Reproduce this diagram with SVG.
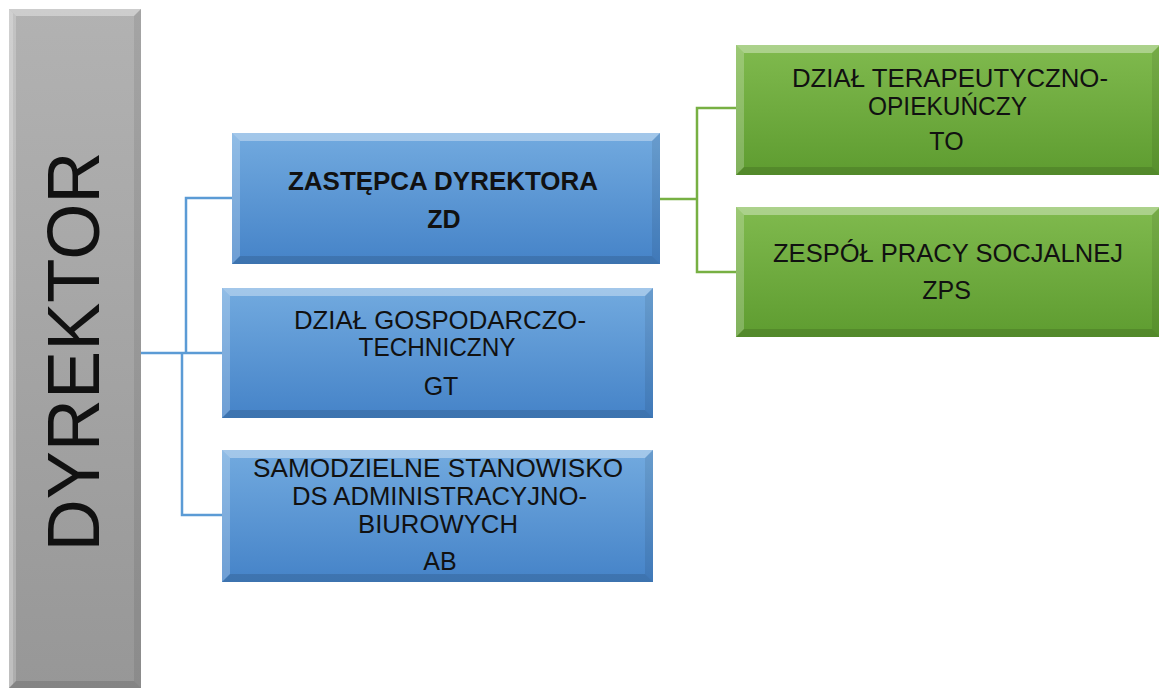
<svg xmlns="http://www.w3.org/2000/svg" width="1159" height="689" viewBox="0 0 1159 689">
<defs>
<linearGradient id="gBlue" x1="0" y1="0" x2="0" y2="1">
<stop offset="0" stop-color="#72AADF"/><stop offset="1" stop-color="#4583C8"/>
</linearGradient>
<linearGradient id="gGreen" x1="0" y1="0" x2="0" y2="1">
<stop offset="0" stop-color="#80BA4E"/><stop offset="1" stop-color="#5E9C30"/>
</linearGradient>
<linearGradient id="gGray" x1="0" y1="0" x2="0" y2="1">
<stop offset="0" stop-color="#B2B2B2"/><stop offset="1" stop-color="#979797"/>
</linearGradient>
</defs>
<style>
.t{font-family:"Liberation Sans",Arial,sans-serif;font-size:25px;fill:#111;text-anchor:middle}
.b{font-weight:bold}
.bt{fill:#fff;opacity:.35}
.bl{fill:#fff;opacity:.22}
.br{fill:#000;opacity:.08}
.bb{fill:#000;opacity:.12}
.cb{fill:none;stroke:#5B9BD5;stroke-width:2.5}
.cg{fill:none;stroke:#77B043;stroke-width:2.5}
</style>
<rect width="1159" height="689" fill="#fff"/>
<g id="connectors">
<polyline class="cb" points="141,353 223,353"/>
<polyline class="cb" points="232,198 186,198 186,353"/>
<polyline class="cb" points="182,353 182,515 223,515"/>
<polyline class="cg" points="660,199 697,199"/>
<polyline class="cg" points="736,108 697,108 697,272 736,272"/>
</g>
<g id="dyrektor">
<rect x="9" y="9" width="132" height="679" fill="url(#gGray)"/>
<polygon class="bt" points="9,9 141,9 134,16 16,16"/>
<polygon class="bl" points="9,9 16,16 16,681 9,688"/>
<polygon class="bl" points="9,9 13,13 13,684 9,688"/>
<polygon class="br" points="141,9 141,688 134,681 134,16"/>
<polygon class="bb" points="9,688 141,688 134,681 16,681"/>
<text class="t" transform="translate(99,351.5) rotate(-90)" style="font-size:74px" textLength="400" lengthAdjust="spacingAndGlyphs">DYREKTOR</text>
</g>
<g id="zd">
<rect x="232" y="133" width="428" height="131" fill="url(#gBlue)"/>
<polygon class="bt" points="232,133 660,133 652,141 240,141"/>
<polygon class="bl" points="232,133 240,141 240,256 232,264"/>
<polygon class="br" points="660,133 660,264 652,256 652,141"/>
<polygon class="bb" points="232,264 660,264 652,256 240,256"/>
<text class="t b" x="443" y="190" textLength="310" lengthAdjust="spacingAndGlyphs">ZASTĘPCA DYREKTORA</text>
<text class="t b" x="444" y="228">ZD</text>
</g>
<g id="gt">
<rect x="222" y="288" width="431" height="130" fill="url(#gBlue)"/>
<polygon class="bt" points="222,288 653,288 645,296 230,296"/>
<polygon class="bl" points="222,288 230,296 230,410 222,418"/>
<polygon class="br" points="653,288 653,418 645,410 645,296"/>
<polygon class="bb" points="222,418 653,418 645,410 230,410"/>
<text class="t" x="440" y="329" textLength="292" lengthAdjust="spacingAndGlyphs">DZIAŁ GOSPODARCZO-</text>
<text class="t" x="437" y="356" textLength="157" lengthAdjust="spacingAndGlyphs">TECHNICZNY</text>
<text class="t" x="441" y="395">GT</text>
</g>
<g id="ab">
<rect x="222" y="450" width="431" height="132" fill="url(#gBlue)"/>
<polygon class="bt" points="222,450 653,450 645,458 230,458"/>
<polygon class="bl" points="222,450 230,458 230,574 222,582"/>
<polygon class="br" points="653,450 653,582 645,574 645,458"/>
<polygon class="bb" points="222,582 653,582 645,574 230,574"/>
<text class="t" x="438" y="477" textLength="370" lengthAdjust="spacingAndGlyphs">SAMODZIELNE STANOWISKO</text>
<text class="t" x="439.5" y="505" textLength="295" lengthAdjust="spacingAndGlyphs">DS ADMINISTRACYJNO-</text>
<text class="t" x="438" y="533" textLength="160" lengthAdjust="spacingAndGlyphs">BIUROWYCH</text>
<text class="t" x="440" y="570">AB</text>
</g>
<g id="to">
<rect x="736" y="45" width="424" height="130" fill="url(#gGreen)"/>
<polygon class="bt" points="736,45 1160,45 1152,53 744,53"/>
<polygon class="bl" points="736,45 744,53 744,167 736,175"/>
<polygon class="br" points="1160,45 1160,175 1152,167 1152,53"/>
<polygon class="bb" points="736,175 1160,175 1152,167 744,167"/>
<text class="t" x="950" y="87" textLength="316" lengthAdjust="spacingAndGlyphs">DZIAŁ TERAPEUTYCZNO-</text>
<text class="t" x="947.5" y="115" textLength="159" lengthAdjust="spacingAndGlyphs">OPIEKUŃCZY</text>
<text class="t" x="946.5" y="150">TO</text>
</g>
<g id="zps">
<rect x="736" y="207" width="424" height="130" fill="url(#gGreen)"/>
<polygon class="bt" points="736,207 1160,207 1152,215 744,215"/>
<polygon class="bl" points="736,207 744,215 744,329 736,337"/>
<polygon class="br" points="1160,207 1160,337 1152,329 1152,215"/>
<polygon class="bb" points="736,337 1160,337 1152,329 744,329"/>
<text class="t" x="948" y="262" textLength="350" lengthAdjust="spacingAndGlyphs">ZESPÓŁ PRACY SOCJALNEJ</text>
<text class="t" x="946.5" y="299">ZPS</text>
</g>
</svg>
